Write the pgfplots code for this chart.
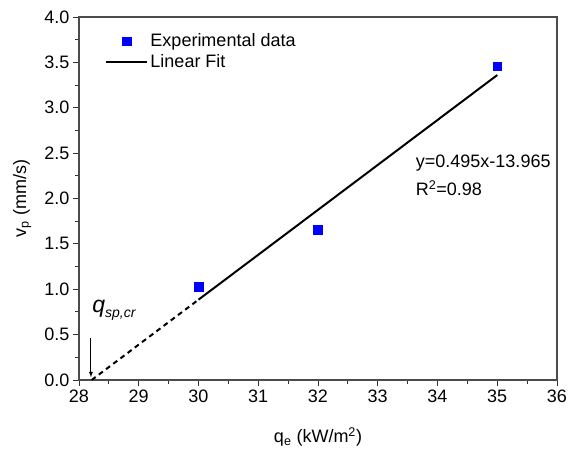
\documentclass[border=0pt]{standalone}
\usepackage{pgfplots}
\pgfplotsset{compat=1.18}
\usepackage{fontspec}
\setmainfont{Liberation Sans}
\begin{document}
\begin{tikzpicture}
\begin{axis}[
  scale only axis, width=478pt, height=363pt,
  xmin=28, xmax=36, ymin=0, ymax=4,
  xtick distance=1, ytick distance=0.5,
  minor x tick num=1, minor y tick num=1,
  xtick pos=bottom, ytick pos=left,
  tick align=outside,
  major tick length=6pt, minor tick length=3.5pt,
  every tick/.style={black!80, line width=0.9pt},
  axis line style={line width=1.2pt, black!70},
  xticklabel style={/pgf/number format/fixed, /pgf/number format/precision=0},
  yticklabel style={/pgf/number format/fixed, /pgf/number format/fixed zerofill, /pgf/number format/precision=1},
  /pgf/number format/assume math mode=true,
  tick label style={font=\fontsize{18}{20}\selectfont},
  label style={font=\fontsize{18}{20}\selectfont},
  xlabel={q\textsubscript{e} (kW/m\textsuperscript{2})},
  ylabel={v\textsubscript{p} (mm/s)},
  xlabel style={at={(axis description cs:0.5,-0.157)}, anchor=center},
  ylabel style={at={(axis description cs:-0.119,0.5)}, anchor=center},
  clip=false,
  legend style={draw=none, fill=none, at={(axis description cs:0.055,0.965)}, anchor=north west,
    font=\fontsize{18}{20}\selectfont, row sep=2pt, inner xsep=0pt},
  legend cell align=left,
  legend image code/.code={\draw[#1] (0pt,0pt) -- (41pt,0pt);},
]
\addplot[only marks, mark=square*, mark size=4.3pt, color=blue,
  legend image code/.code={\draw[mark repeat=2,mark phase=2] plot coordinates {(0pt,0pt) (20pt,0pt) (41pt,0pt)};}]
  coordinates {(30,1.025) (32,1.653) (35,3.46)};
\addlegendentry{Experimental data}
\addplot[black, line width=2pt, no marks] coordinates {(30,0.885) (35,3.36)};
\addlegendentry{Linear Fit}
\addplot[black, line width=2pt, dash pattern=on 5pt off 4pt, no marks, forget plot]
  coordinates {(28.212,0) (30,0.885)};
\draw[black!70, line width=1.2pt] (axis cs:28,4) -- (axis cs:36,4) -- (axis cs:36,0);
\node[anchor=west, font=\fontsize{18}{20}\selectfont] at (axis cs:33.58,2.39) {y=0.495x-13.965};
\node[anchor=west, font=\fontsize{18}{20}\selectfont] at (axis cs:33.58,2.11) {R\textsuperscript{2}=0.98};
\node[anchor=base west, inner sep=0pt, font=\fontsize{23}{25}\selectfont\itshape] at (axis cs:28.22,0.74) {q\raisebox{-5pt}{\fontsize{14}{16}\selectfont sp,cr}};
\draw[-latex, line width=0.9pt] (axis cs:28.2,0.46) -- (axis cs:28.2,0.03);
\end{axis}
\pgfresetboundingbox
\path[use as bounding box] (-79pt,-72pt) rectangle (506pt,380pt);
\end{tikzpicture}
\end{document}
